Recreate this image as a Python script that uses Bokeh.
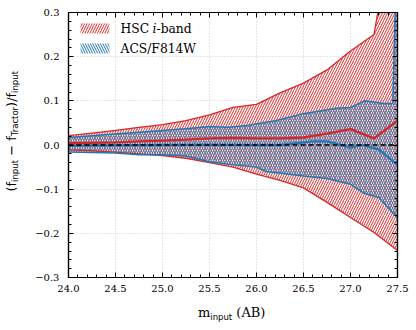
from bokeh.plotting import figure
from bokeh.models import (Label, BoxAnnotation, LinearAxis, FixedTicker, Span,
                          CustomJSTickFormatter, Range1d, Div)
from bokeh.layouts import row, column
from bokeh.embed import file_html
from bokeh.resources import INLINE
import numpy as np

# ---------------- data ----------------
hsc_x = [24.0, 24.25, 24.5, 24.75, 25.0, 25.25, 25.5, 25.75, 26.0, 26.25, 26.5, 26.75, 27.0, 27.25, 27.5]
hsc_hi = [0.021, 0.027, 0.033, 0.040, 0.046, 0.055, 0.068, 0.085, 0.092, 0.118, 0.140, 0.170, 0.213, 0.250, 0.56]
hsc_lo = [-0.011, -0.013, -0.016, -0.020, -0.024, -0.030, -0.040, -0.050, -0.066, -0.080, -0.097, -0.130, -0.164, -0.198, -0.239]
hsc_med = [0.004, 0.005, 0.006, 0.008, 0.010, 0.012, 0.015, 0.016, 0.015, 0.015, 0.017, 0.026, 0.036, 0.015, 0.055]

acs_x_hi = [24.0, 24.25, 24.5, 24.75, 25.0, 25.25, 25.5, 25.7, 25.9, 26.2, 26.5, 26.85, 27.0, 27.15, 27.35, 27.45, 27.5]
acs_hi = [0.017, 0.021, 0.025, 0.029, 0.033, 0.037, 0.042, 0.040, 0.044, 0.055, 0.071, 0.083, 0.085, 0.100, 0.094, 0.094, 0.50]
acs_x_lo = [24.0, 24.25, 24.5, 24.75, 25.0, 25.25, 25.5, 25.75, 26.0, 26.1, 26.5, 26.75, 27.0, 27.15, 27.3, 27.5]
acs_lo = [-0.016, -0.017, -0.018, -0.022, -0.022, -0.025, -0.038, -0.045, -0.050, -0.060, -0.070, -0.076, -0.089, -0.110, -0.119, -0.165]
acs_x_med = [24.0, 24.5, 25.0, 25.5, 26.0, 26.25, 26.6, 26.75, 27.0, 27.12, 27.3, 27.5]
acs_med = [-0.002, -0.001, 0.0, 0.001, 0.0, 0.0, 0.008, 0.008, -0.006, 0.0, -0.010, -0.045]

x_ticks = [24.0, 24.5, 25.0, 25.5, 26.0, 26.5, 27.0, 27.5]
y_ticks = [-0.3, -0.2, -0.1, 0.0, 0.1, 0.2, 0.3]
y_tick_labels = ["\u22120.3", "\u22120.2", "\u22120.1", "0.0", "0.1", "0.2", "0.3"]
x_tick_labels = ["24.0", "24.5", "25.0", "25.5", "26.0", "26.5", "27.0", "27.5"]

RED = "#d62728"
BLUE = "#1f77b4"
SERIF = "DejaVu Serif"
SANS = "DejaVu Sans"

YLAB_W = 24          # width of the y-label strip
FW, FH = 388, 300    # figure size
XLAB_H = 26          # height of the x-label strip

p = figure(width=FW, height=FH, output_backend="svg", toolbar_location=None,
           x_range=Range1d(24.0, 27.5), y_range=Range1d(-0.3, 0.3),
           min_border_left=44, min_border_right=15, min_border_top=12, min_border_bottom=23)
p.background_fill_color = "white"
p.border_fill_color = "white"
p.outline_line_color = "black"
p.outline_line_width = 1.2

# put the acs band on one x grid for the fill (upper and lower edges were read separately)
acs_x = sorted(set(acs_x_hi) | set(acs_x_lo))
acs_hi_i = np.interp(acs_x, acs_x_hi, acs_hi)
acs_lo_i = np.interp(acs_x, acs_x_lo, acs_lo)

# bands
p.varea(x=hsc_x, y1=hsc_lo, y2=hsc_hi, fill_alpha=0, hatch_pattern="/",
        hatch_color=RED, hatch_scale=5, hatch_weight=1)
p.varea(x=acs_x, y1=acs_lo_i, y2=acs_hi_i, fill_alpha=0, hatch_pattern="\\",
        hatch_color=BLUE, hatch_scale=5, hatch_weight=1)

p.add_layout(Span(location=0, dimension="width", line_color="black",
                  line_dash="5 3", line_width=1.5))

# outlines and medians
p.line(hsc_x, hsc_hi, line_color=RED, line_width=1.3)
p.line(hsc_x, hsc_lo, line_color=RED, line_width=1.3)
p.line(acs_x_hi, acs_hi, line_color=BLUE, line_width=1.5)
p.line(acs_x_lo, acs_lo, line_color=BLUE, line_width=1.5)
p.line(acs_x_med, acs_med, line_color=BLUE, line_width=2.3)
p.line(hsc_x, hsc_med, line_color=RED, line_width=2.3)

# axes / ticks
xt = FixedTicker(ticks=x_ticks, minor_ticks=list(np.round(np.arange(24.0, 27.51, 0.1), 2)))
yt = FixedTicker(ticks=y_ticks, minor_ticks=list(np.round(np.arange(-0.3, 0.301, 0.02), 3)))
p.xaxis.ticker = xt
p.yaxis.ticker = yt
p.xaxis.major_label_overrides = dict(zip(x_ticks, x_tick_labels))
p.yaxis.major_label_overrides = dict(zip(y_ticks, y_tick_labels))

blank = CustomJSTickFormatter(code="return ''")
for side in ("above", "right"):
    ax = LinearAxis(ticker=xt if side == "above" else yt, formatter=blank,
                    major_label_text_font_size="1px", major_label_standoff=0)
    p.add_layout(ax, side)

for ax in p.axis:
    ax.major_tick_in = 5
    ax.major_tick_out = 0
    ax.minor_tick_in = 3
    ax.minor_tick_out = 0
    ax.axis_line_color = "black"
    ax.axis_line_width = 1.2
    ax.major_tick_line_color = "black"
    ax.minor_tick_line_color = "black"
    ax.major_tick_line_width = 1
    ax.minor_tick_line_width = 1
    ax.axis_label = None

p.below[0].major_label_text_font = SERIF
p.below[0].major_label_text_font_size = "10px"
p.below[0].major_label_text_color = "black"
p.below[0].major_label_standoff = 7
p.left[0].major_label_text_font = SERIF
p.left[0].major_label_text_font_size = "10px"
p.left[0].major_label_text_color = "black"
p.left[0].major_label_standoff = 9

p.xgrid.ticker = xt
p.ygrid.ticker = yt
p.grid.grid_line_color = "#cccccc"
p.grid.grid_line_dash = "1 2"
p.grid.grid_line_width = 1

# screen positions: relative to the plot frame (origin at its bottom-left), page px
FL, FB = 68, 277

def sx(px):
    return px - FL

def sy(py):
    return FB - py

# legend (manual, to allow the italic i)
for (y_top, pat, col) in ((23, "/", RED), (43, "\\", BLUE)):
    p.add_layout(BoxAnnotation(left=sx(80), right=sx(109), top=sy(y_top), bottom=sy(y_top + 10),
                               left_units="screen", right_units="screen",
                               top_units="screen", bottom_units="screen",
                               fill_alpha=0, line_alpha=0, hatch_pattern=pat,
                               hatch_color=col, hatch_scale=5, hatch_weight=1))

def lab(text, x, y, style="normal"):
    p.add_layout(Label(x=x, y=y, x_units="screen", y_units="screen", text=text,
                       text_font=SERIF, text_font_size="12.3px", text_font_style=style,
                       text_color="black", text_baseline="middle", text_align="left"))

lab("HSC", sx(120), sy(28))
lab("i", sx(152), sy(28), style="italic")
lab("-band", sx(156), sy(28))
lab("ACS/F814W", sx(120), sy(48))

# axis titles with subscripts as HTML
sub = "font-family:'DejaVu Sans';font-size:8.5px;vertical-align:-2.5px;"
ytxt = (f"(f<span style=\"{sub}\">input</span> \u2212 f<span style=\"{sub}\">Tractor</span>)"
        f"/f<span style=\"{sub}\">input</span>")
ydiv = Div(width=YLAB_W, height=FH, margin=0,
           text=("<div style=\"width:24px;height:263px;display:flex;align-items:center;"
                 "justify-content:flex-start;\">"
                 "<div style=\"writing-mode:vertical-rl;transform:rotate(180deg);"
                 "font-family:'DejaVu Sans';font-size:13px;line-height:13px;white-space:nowrap;"
                 "color:black;margin-left:5px;\">" + ytxt + "</div></div>"))

xtxt = (f"<span style=\"font-family:'DejaVu Serif';\">m</span>"
        f"<span style=\"{sub}\">input</span>"
        f"<span style=\"font-family:'DejaVu Serif';\"> (AB)</span>")
xdiv = Div(width=FW, height=XLAB_H, margin=0,
           text=("<div style=\"padding-left:174px;padding-top:6px;font-size:13px;"
                 "line-height:13px;white-space:nowrap;color:black;\">" + xtxt + "</div>"))

layout = row(ydiv, column(p, xdiv, spacing=0), spacing=0)

open("out.html", "w").write(file_html(layout, INLINE))
